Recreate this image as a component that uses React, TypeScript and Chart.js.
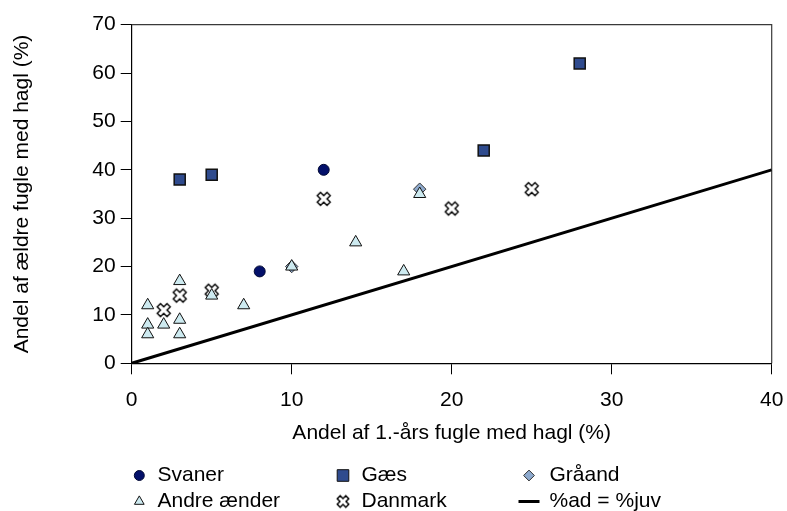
import React, { useEffect, useRef } from 'react';
import { Chart, registerables } from 'chart.js';
import { drawPoint } from 'chart.js/helpers';

Chart.register(...registerables);

// ---- data ----
const svanerX = [8, 12];
const svanerY = [19, 40];
const gaesX = [3, 5, 22, 28];
const gaesY = [38, 39, 44, 62];
const graaandX = [10, 18];
const graaandY = [20, 36];
const andreX = [1, 1, 1, 2, 3, 3, 3, 5, 7, 10, 14, 17, 18];
const andreY = [12, 8, 6, 8, 17, 9, 6, 14, 12, 20, 25, 19, 35];
const danmarkX = [2, 3, 5, 12, 20, 25];
const danmarkY = [11, 14, 15, 34, 32, 36];
const lineX = [0, 40];
const lineY = [0, 40];
const seriesNames = ['Svaner', 'Gæs', 'Gråand', 'Andre ænder', 'Danmark', '%ad = %juv'];
const xTitle = 'Andel af 1.-års fugle med hagl (%)';
const yTitle = 'Andel af ældre fugle med hagl (%)';
const xMin = 0, xMax = 40, xStep = 10;
const yMin = 0, yMax = 70, yStep = 10;

const FONT = '"Liberation Sans", Arial, Helvetica, sans-serif';
const FS = 21;

const pts = (xs: number[], ys: number[]) => xs.map((x, i) => ({ x, y: ys[i] }));

function makeCross(size: number, L: number, a: number): HTMLCanvasElement {
  const c = document.createElement('canvas');
  c.width = size;
  c.height = size;
  const g = c.getContext('2d')!;
  const plus: [number, number][] = [
    [-a, -L], [a, -L], [a, -a], [L, -a], [L, a], [a, a],
    [a, L], [-a, L], [-a, a], [-L, a], [-L, -a], [-a, -a],
  ];
  const cx = size / 2, cy = size / 2;
  const s = Math.SQRT1_2;
  g.beginPath();
  plus.forEach(([x, y], i) => {
    const rx = (x - y) * s + cx;
    const ry = (x + y) * s + cy;
    if (i === 0) g.moveTo(rx, ry); else g.lineTo(rx, ry);
  });
  g.closePath();
  g.fillStyle = '#ffffff';
  g.fill();
  g.strokeStyle = '#000000';
  g.lineWidth = 1.4;
  g.lineJoin = 'miter';
  g.stroke();
  return c;
}

export default function App() {
  const ref = useRef<HTMLCanvasElement | null>(null);

  useEffect(() => {
    if (!ref.current) return;
    const crossBig = makeCross(18, 6.9, 2.3);
    const crossSmall = makeCross(16, 6.1, 2.1);

    const styles = [
      { pointStyle: 'circle', radius: 5.5, bg: '#03106a', border: '#000833', bw: 1 },
      { pointStyle: 'rect', radius: 7.8, bg: '#2f4b8e', border: '#111111', bw: 1.5 },
      { pointStyle: 'rectRot', radius: 6.2, bg: '#8eaace', border: '#333333', bw: 1 },
      { pointStyle: 'triangle', radius: 7, bg: '#cdeaf0', border: '#111111', bw: 1 },
      { pointStyle: crossBig, radius: 7, bg: '#ffffff', border: '#000000', bw: 0 },
    ];

    const legendItems = [
      { col: 0, row: 0, kind: 'circle', r: 5, s: styles[0] },
      { col: 1, row: 0, kind: 'rect', r: 8.2, s: styles[1] },
      { col: 2, row: 0, kind: 'rectRot', r: 5.4, s: styles[2] },
      { col: 0, row: 1, kind: 'triangle', r: 5.6, s: styles[3] },
      { col: 1, row: 1, kind: 'cross', r: 6, s: styles[4] },
      { col: 2, row: 1, kind: 'line', r: 0, s: null as any },
    ];
    const colMarkerX = [139.3, 343, 529];
    const colTextX = [157.5, 361.5, 549.5];
    const rowY = [475.5, 501.5];

    const framePlugin = {
      id: 'frame',
      beforeDatasetsDraw(chart: any) {
        const { ctx, chartArea } = chart;
        ctx.save();
        ctx.strokeStyle = '#3a3a3a';
        ctx.lineWidth = 1.2;
        ctx.beginPath();
        ctx.moveTo(chartArea.left, chartArea.top);
        ctx.lineTo(chartArea.right, chartArea.top);
        ctx.lineTo(chartArea.right, chartArea.bottom);
        ctx.stroke();
        ctx.restore();
      },
    };

    const legendPlugin = {
      id: 'customLegend',
      afterDraw(chart: any) {
        const { ctx } = chart;
        ctx.save();
        legendItems.forEach((it, i) => {
          const mx = colMarkerX[it.col];
          const my = rowY[it.row];
          if (it.kind === 'line') {
            ctx.strokeStyle = '#000';
            ctx.lineWidth = 3;
            ctx.beginPath();
            ctx.moveTo(mx - 10.5, my);
            ctx.lineTo(mx + 10.5, my);
            ctx.stroke();
          } else if (it.kind === 'cross') {
            drawPoint(ctx, { pointStyle: crossSmall, radius: it.r, borderWidth: 0, rotation: 0 } as any, mx, my);
          } else {
            ctx.fillStyle = it.s.bg;
            ctx.strokeStyle = it.s.border;
            ctx.lineWidth = 1;
            drawPoint(ctx, { pointStyle: it.kind, radius: it.r, borderWidth: 1, rotation: 0 } as any, mx, my);
          }
          ctx.fillStyle = '#000';
          ctx.font = `${FS}px ${FONT}`;
          ctx.textAlign = 'left';
          ctx.textBaseline = 'middle';
          ctx.fillText(seriesNames[i], colTextX[it.col], my);
        });
        ctx.restore();
      },
    };

    const mk = (label: string, data: any[], s: any, order: number) => ({
      label,
      data,
      pointStyle: s.pointStyle,
      pointRadius: s.radius,
      pointBackgroundColor: s.bg,
      pointBorderColor: s.border,
      pointBorderWidth: s.bw,
      showLine: false,
      order,
    });

    const chart = new Chart(ref.current, {
      type: 'scatter',
      data: {
        datasets: [
          mk(seriesNames[0], pts(svanerX, svanerY), styles[0], 5),
          mk(seriesNames[1], pts(gaesX, gaesY), styles[1], 5),
          mk(seriesNames[2], pts(graaandX, graaandY), styles[2], 4),
          mk(seriesNames[3], pts(andreX, andreY), styles[3], 2),
          mk(seriesNames[4], pts(danmarkX, danmarkY), styles[4], 3),
          {
            label: seriesNames[5],
            data: pts(lineX, lineY),
            showLine: true,
            borderColor: '#000',
            borderWidth: 3,
            pointRadius: 0,
            fill: false,
            order: 1,
          } as any,
        ],
      },
      options: {
        responsive: false,
        animation: false,
        devicePixelRatio: 1,
        layout: { autoPadding: false, padding: { left: 0, right: 15.3, top: 24.7, bottom: 0 } },
        plugins: {
          legend: { display: false },
          tooltip: { enabled: false },
          title: { display: false },
        },
        scales: {
          x: {
            type: 'linear',
            min: xMin,
            max: xMax,
            ticks: { stepSize: xStep, color: '#000', font: { family: FONT, size: FS }, padding: 13, maxRotation: 0 },
            grid: { display: true, drawOnChartArea: false, drawTicks: true, tickLength: 11, color: '#000', lineWidth: 1 },
            border: { display: true, color: '#000', width: 1.2 },
            title: {
              display: true,
              text: xTitle,
              color: '#000',
              font: { family: FONT, size: FS },
              padding: { top: 0, bottom: 65 },
            },
            afterFit(scale: any) {
              scale.height = 147.7;
              scale.paddingLeft = 0;
              scale.paddingRight = 0;
            },
          },
          y: {
            type: 'linear',
            min: yMin,
            max: yMax,
            ticks: { stepSize: yStep, color: '#000', font: { family: FONT, size: FS }, padding: 5 },
            grid: { display: true, drawOnChartArea: false, drawTicks: true, tickLength: 11, color: '#000', lineWidth: 1 },
            border: { display: true, color: '#000', width: 1.2 },
            title: {
              display: true,
              text: yTitle,
              color: '#000',
              font: { family: FONT, size: FS },
              padding: { top: 9.9, bottom: 0 },
            },
            afterFit(scale: any) {
              scale.width = 131.7;
              scale.paddingTop = 0;
              scale.paddingBottom = 0;
            },
          },
        },
      } as any,
      plugins: [framePlugin, legendPlugin],
    });
    return () => chart.destroy();
  }, []);

  return (
    <div style={{ position: 'fixed', left: 0, top: 0, width: 787, height: 511, background: '#fff' }}>
      <canvas ref={ref} width={787} height={511} style={{ display: 'block', width: 787, height: 511 }} />
    </div>
  );
}
